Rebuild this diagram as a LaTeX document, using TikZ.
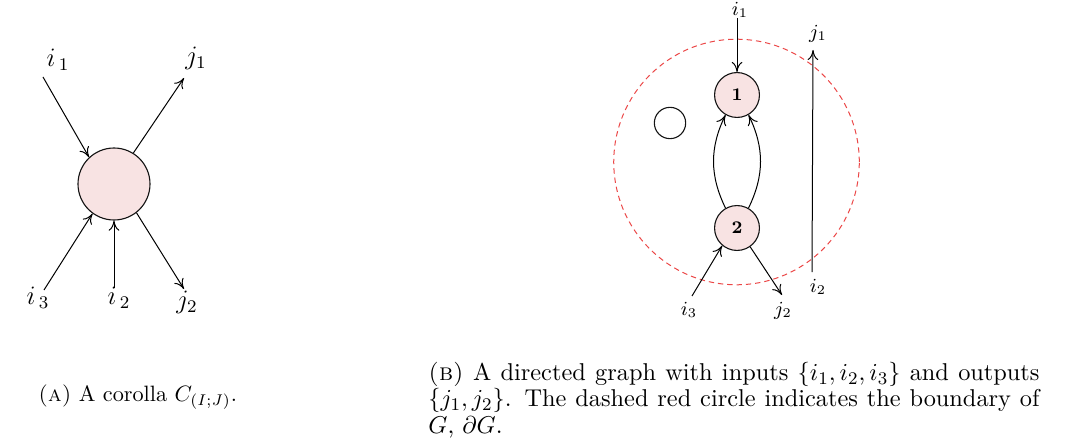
\documentclass[tikz,border=0pt]{standalone}
\usepackage{amsmath}
\usepackage{amssymb}
\usepackage{xcolor}
\usepackage{tikz}
\usetikzlibrary{arrows.meta,positioning}
\definecolor{vtxfill}{RGB}{248,227,227}
\definecolor{vtxedge}{RGB}{20,20,20}
\definecolor{bdred}{RGB}{235,70,70}
\tikzset{
  vtx/.style={
    circle, draw=vtxedge, line width=0.5pt, fill=vtxfill,
    inner sep=0pt, font=\footnotesize\bfseries
  },
  hollow/.style={circle, draw=vtxedge, line width=0.5pt, inner sep=0pt},
  boundary/.style={
    circle, draw=bdred, dash pattern=on 2.4pt off 1.8pt,
    line width=0.45pt, inner sep=0pt
  },
  arr/.style={-{To[length=1.6mm,width=1.7mm]}, draw=black, line width=0.45pt},
  leg/.style={font=\large, inner sep=1pt},
  rleg/.style={font=\small, inner sep=1pt},
  capt/.style={font=\fontsize{10.95}{11.8}\selectfont, inner sep=0pt, align=left}
}

\begin{document}
\begin{tikzpicture}[x=0.45pt, y=-0.45pt]
  \useasboundingbox (0,0) rectangle (1072,438);

  % (a) corolla
  \node[vtx, minimum size=32.4pt] (c) at (114,184) {};
  \node[leg] (ai1) at (58,60) {$i_{\,1}$};
  \node[leg] (aj1) at (196,58) {$j_{1}$};
  \node[leg] (ai3) at (38,298) {$i_{\,3}$};
  \node[leg] (ai2) at (119,298) {$i_{\,2}$};
  \node[leg] (aj2) at (187,302) {$j_{2}$};
  \coordinate (ti1) at (43,77);
  \coordinate (tj1) at (184,78);
  \coordinate (ti3) at (44,290);
  \coordinate (ti2) at (114,288);
  \coordinate (tj2) at (184,289);
  \draw[arr] (ti1) -- (c.133);
  \draw[arr] (c.58) -- (tj1);
  \draw[arr] (ti3) -- (c.234);
  \draw[arr] (ti2) -- (c.270);
  \draw[arr] (c.308) -- (tj2);

  % (b) directed graph
  \node[boundary, minimum size=110.5pt] (bd) at (736.5,162) {};
  \node[vtx, minimum size=20.2pt] (n1) at (737,95) {1};
  \node[vtx, minimum size=20.2pt] (n2) at (737,228) {2};
  \node[hollow, minimum size=14.1pt] (e) at (670,123) {};
  \node[rleg] (bi1) at (740,10) {$i_1$};
  \node[rleg] (bj1) at (818,34) {$j_1$};
  \node[rleg] (bi2) at (818,287) {$i_2$};
  \node[rleg] (bi3) at (689,310) {$i_3$};
  \node[rleg] (bj2) at (783,311) {$j_2$};
  \coordinate (si1) at (737,18);
  \coordinate (si2) at (812,272);
  \coordinate (sj1) at (813,50);
  \coordinate (si3) at (692,296);
  \coordinate (sj2) at (782,295);
  \draw[arr] (si1) -- (n1);
  \draw[arr] (si2) -- (sj1);
  \draw[arr] (si3) -- (n2.230);
  \draw[arr] (n2.305) -- (sj2);
  \draw[arr] (n2.120) to[out=116, in=-116] (n1.240);
  \draw[arr] (n2.60) to[out=64, in=-64] (n1.300);

  % captions
  \node[capt, anchor=west, font=\normalsize] (capa) at (38,397) {\textsc{(a)} A corolla $C_{(I;J)}$.};
  \node[capt, anchor=north west, text width=275pt, align=justify] (capb) at (428,362)
    {\textsc{(b)} A directed graph with inputs $\{i_1,i_2,i_3\}$ and outputs
     $\{j_1,j_2\}$. The dashed red circle indicates the boundary of\linebreak
     $G$, $\partial G$.};
\end{tikzpicture}
\end{document}
